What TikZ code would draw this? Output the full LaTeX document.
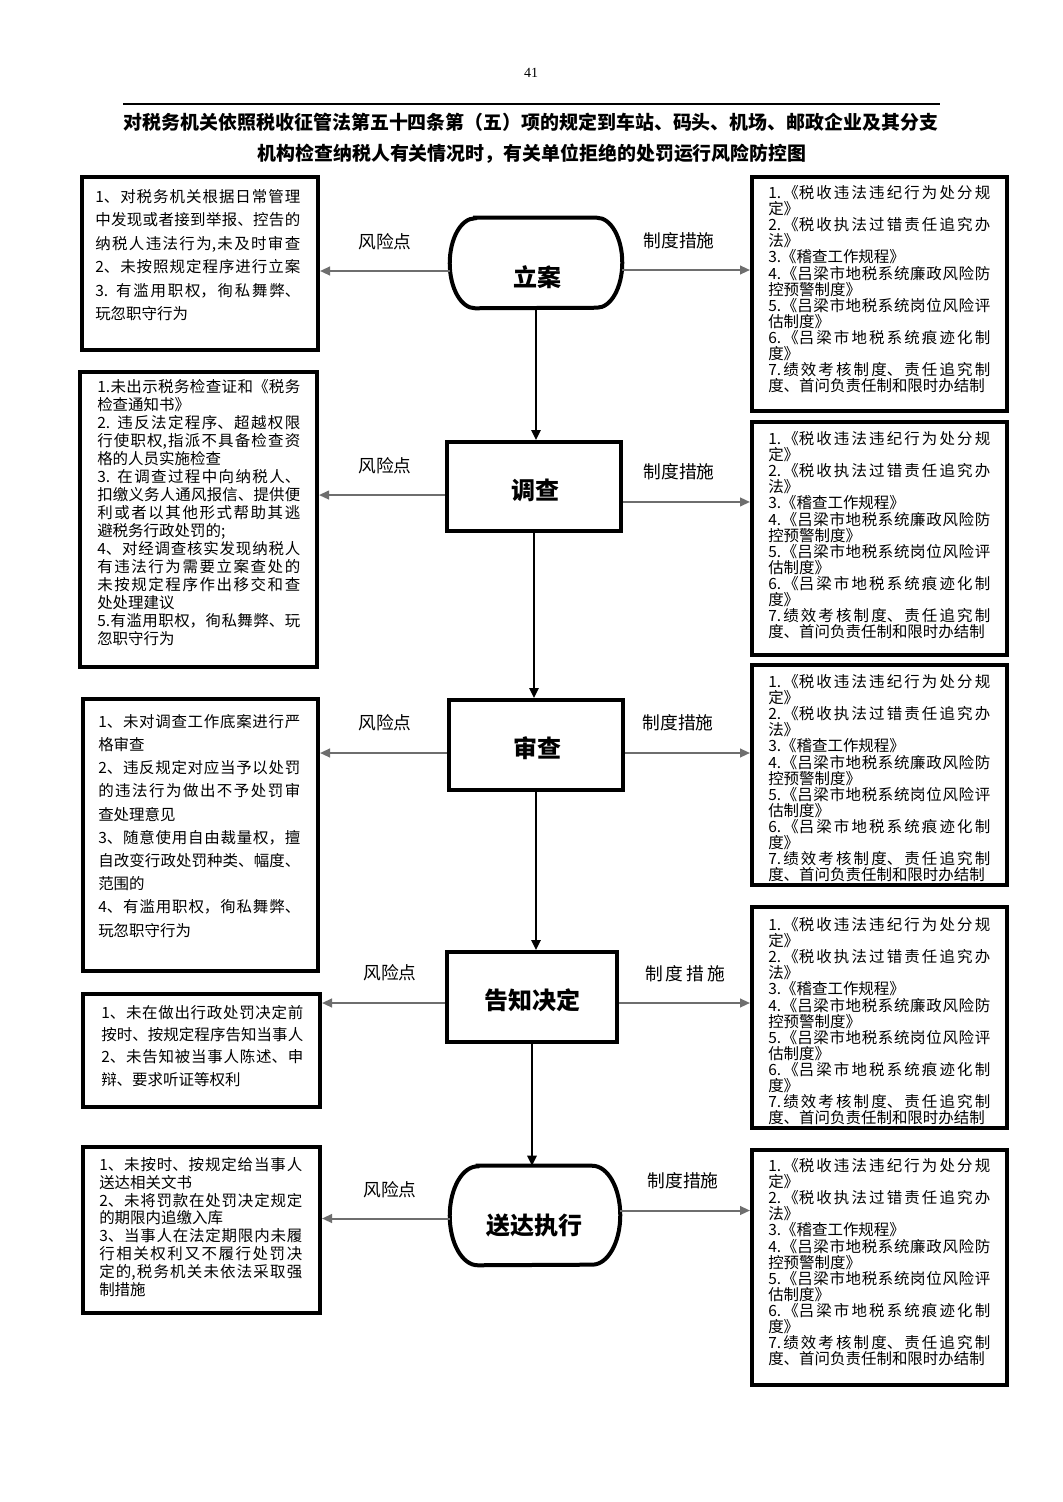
\documentclass[tikz,border=0pt]{standalone}
\usepackage{fontspec}
\setmainfont{Noto Sans CJK SC}
\newfontfamily\numfont{Liberation Serif}
\usetikzlibrary{arrows.meta,fit}
\XeTeXlinebreaklocale "zh"
\XeTeXlinebreakskip=0pt plus 2pt
\tolerance=9999
\hbadness=10000
\hfuzz=8pt
\definecolor{arrowgray}{HTML}{6E6E6E}
\begin{document}
\begin{tikzpicture}[x=0.75pt,y=-0.75pt,
  box/.style={draw=black, line width=3pt, inner sep=0pt},
  stad/.style={inner sep=0pt},
  stadline/.style={draw=black, line width=3pt},
  txt/.style={anchor=north west, inner sep=0pt, align=justify, text width=#1},
  ftL1/.style={font=\fontsize{11.6pt}{17.6pt}\selectfont},
  ftL2/.style={font=\fontsize{11.6pt}{13.5pt}\selectfont},
  ftL3/.style={font=\fontsize{11.6pt}{17.4pt}\selectfont},
  ftL4/.style={font=\fontsize{11.6pt}{16.7pt}\selectfont},
  ftL5/.style={font=\fontsize{11.6pt}{13.4pt}\selectfont},
  ftR/.style={font=\fontsize{11.6pt}{12.1pt}\selectfont},
  risk/.style={draw=arrowgray, line width=1.5pt, -{Triangle[length=7.5pt,width=6.5pt]}},
  flow/.style={draw=black, line width=1.6pt, -{Triangle[length=7.5pt,width=7pt]}},
  lab/.style={inner sep=0pt, font=\fontsize{13.3pt}{16pt}\selectfont},
  ctrtext/.style={inner sep=0pt, font=\bfseries\fontsize{18pt}{20pt}\selectfont},
  titletext/.style={inner sep=0pt, font=\bfseries\fontsize{14.2pt}{18pt}\selectfont}
]
\useasboundingbox[fill=white] (0,0) rectangle (1063,1502);

% header
\node[inner sep=0pt, font=\numfont\fontsize{10.5pt}{12pt}\selectfont] (pg) at (531,73) {41};
\coordinate (ruleA) at (123,104);
\coordinate (ruleB) at (940,104);
\draw[line width=1.5pt] (ruleA) -- (ruleB);
\node[titletext] (t1) at (531,122) {对税务机关依照税收征管法第五十四条第（五）项的规定到车站、码头、机场、邮政企业及其分支};
\node[titletext] (t2) at (532,154) {机构检查纳税人有关情况时，有关单位拒绝的处罚运行风险防控图};

% ---------- centre nodes ----------
\node[stad, fit={(450,218) (622,308)}] (N1) {};
\draw[stadline] ([xshift=19pt]N1.north west) -- ([xshift=-19pt]N1.north east)
  arc[start angle=90, end angle=-90, x radius=19pt, y radius=33.75pt]
  -- ([xshift=19pt]N1.south west)
  arc[start angle=270, end angle=90, x radius=19pt, y radius=33.75pt] -- cycle;
\node[ctrtext] (N1t) at (537,277) {立案};

\node[box, fit={(447,442) (621,531)}] (N2) {};
\node[ctrtext] (N2t) at (535,490) {调查};

\node[box, fit={(449,700) (623,790)}] (N3) {};
\node[ctrtext] (N3t) at (537,748) {审查};

\node[box, fit={(447,952) (617,1042)}] (N4) {};
\node[ctrtext] (N4t) at (532,1000) {告知决定};

\node[stad, fit={(450,1166) (620,1265)}] (N5) {};
\draw[stadline] ([xshift=21pt]N5.north west) -- ([xshift=-21pt]N5.north east)
  arc[start angle=90, end angle=-90, x radius=21pt, y radius=37.1pt]
  -- ([xshift=21pt]N5.south west)
  arc[start angle=270, end angle=90, x radius=21pt, y radius=37.1pt] -- cycle;
\node[ctrtext] (N5t) at (534,1225) {送达执行};

% ---------- left boxes ----------
\node[box, fit={(82,177) (318,350)}] (L1) {};
\node[txt=153.75pt, ftL1] (L1t) at (95,189) {1、对税务机关根据日常管理\linebreak
中发现或者接到举报、控告的\linebreak
纳税人违法行为,未及时审查\linebreak
2、未按照规定程序进行立案\linebreak
3. 有滥用职权，徇私舞弊、\linebreak
玩忽职守行为};

\node[box, fit={(80,372) (317,667)}] (L2) {};
\node[txt=152.25pt, ftL2] (L2t) at (97,379) {1.未出示税务检查证和《税务\linebreak
检查通知书》\par
2. 违反法定程序、超越权限\linebreak
行使职权,指派不具备检查资\linebreak
格的人员实施检查\par
3. 在调查过程中向纳税人、\linebreak
扣缴义务人通风报信、提供便\linebreak
利或者以其他形式帮助其逃\linebreak
避税务行政处罚的;\par
4、对经调查核实发现纳税人\linebreak
有违法行为需要立案查处的\linebreak
未按规定程序作出移交和查\linebreak
处处理建议\par
5.有滥用职权，徇私舞弊、玩\linebreak
忽职守行为};

\node[box, fit={(83,699) (318,971)}] (L3) {};
\node[txt=151.5pt, ftL3] (L3t) at (98,714) {1、未对调查工作底案进行严\linebreak
格审查\par
2、违反规定对应当予以处罚\linebreak
的违法行为做出不予处罚审\linebreak
查处理意见\par
3、随意使用自由裁量权，擅\linebreak
自改变行政处罚种类、幅度、\linebreak
范围的\par
4、有滥用职权，徇私舞弊、\linebreak
玩忽职守行为};

\node[box, fit={(83,994) (320,1107)}] (L4) {};
\node[txt=151.5pt, ftL4] (L4t) at (101,1005) {1、未在做出行政处罚决定前\linebreak
按时、按规定程序告知当事人\linebreak
2、未告知被当事人陈述、申\linebreak
辩、要求听证等权利};

\node[box, fit={(83,1147) (320,1313)}] (L5) {};
\node[txt=152.25pt, ftL5] (L5t) at (99,1157) {1、未按时、按规定给当事人\linebreak
送达相关文书\par
2、未将罚款在处罚决定规定\linebreak
的期限内追缴入库\par
3、当事人在法定期限内未履\linebreak
行相关权利又不履行处罚决\linebreak
定的,税务机关未依法采取强\linebreak
制措施};

% ---------- right boxes ----------
\newcommand{\measures}{1.《税收违法违纪行为处分规\linebreak
定》\par
2.《税收执法过错责任追究办\linebreak
法》\par
3.《稽查工作规程》\par
4.《吕梁市地税系统廉政风险防\linebreak
控预警制度》\par
5.《吕梁市地税系统岗位风险评\linebreak
估制度》\par
6.《吕梁市地税系统痕迹化制\linebreak
度》\par
7.绩效考核制度、责任追究制\linebreak
度、首问负责任制和限时办结制}

\node[box, fit={(752,177) (1007,411)}] (R1) {};
\node[txt=166.5pt, ftR] (R1t) at (768,185) {\measures};
\node[box, fit={(752,422) (1007,655)}] (R2) {};
\node[txt=166.5pt, ftR] (R2t) at (768,431) {\measures};
\node[box, fit={(752,665) (1007,885)}] (R3) {};
\node[txt=166.5pt, ftR] (R3t) at (768,674) {\measures};
\node[box, fit={(752,907) (1007,1128)}] (R4) {};
\node[txt=166.5pt, ftR] (R4t) at (768,917) {\measures};
\node[box, fit={(752,1150) (1007,1385)}] (R5) {};
\node[txt=166.5pt, ftR] (R5t) at (768,1158) {\measures};

% ---------- vertical flow ----------
\draw[flow] (N1.south) -- (N1.south |- N2.north);
\draw[flow] (N2.south) -- (N2.south |- N3.north);
\draw[flow] (N3.south) -- (N3.south |- N4.north);
\draw[flow] (N4.south) -- (N4.south |- N5.north);

% ---------- risk arrows (left) ----------
\draw[risk] ([yshift=-6pt]N1.west) -- ([yshift=-6pt]N1.west -| L1.east);
\draw[risk] ([yshift=-6.4pt]N2.west) -- ([yshift=-6.4pt]N2.west -| L2.east);
\draw[risk] ([yshift=-6pt]N3.west) -- ([yshift=-6pt]N3.west -| L3.east);
\draw[risk] ([yshift=-4.5pt]N4.west) -- ([yshift=-4.5pt]N4.west -| L4.east);
\draw[risk] ([yshift=-2.25pt]N5.west) -- ([yshift=-2.25pt]N5.west -| L5.east);

% ---------- measure arrows (right) ----------
\draw[risk] ([yshift=-5.25pt]N1.east) -- ([yshift=-5.25pt]N1.east -| R1.west);
\draw[risk] ([yshift=-11.6pt]N2.east) -- ([yshift=-11.6pt]N2.east -| R2.west);
\draw[risk] ([yshift=-6pt]N3.east) -- ([yshift=-6pt]N3.east -| R3.west);
\draw[risk] ([yshift=-4.5pt]N4.east) -- ([yshift=-4.5pt]N4.east -| R4.west);
\draw[risk] ([yshift=3.75pt]N5.east) -- ([yshift=3.75pt]N5.east -| R5.west);

% ---------- labels ----------
\node[lab] (k1) at (385,242) {风险点};
\node[lab] (k2) at (385,466) {风险点};
\node[lab] (k3) at (385,723) {风险点};
\node[lab] (k4) at (390,973) {风险点};
\node[lab] (k5) at (390,1190) {风险点};
\node[lab] (m1) at (679,241) {制度措施};
\node[lab] (m2) at (679,472) {制度措施};
\node[lab] (m3) at (678,723) {制度措施};
\node[lab] (m4) at (685,974) {制\hspace{2.2pt}度\hspace{2.2pt}措\hspace{2.2pt}施};
\node[lab] (m5) at (683,1181) {制度措施};
\end{tikzpicture}
\end{document}
